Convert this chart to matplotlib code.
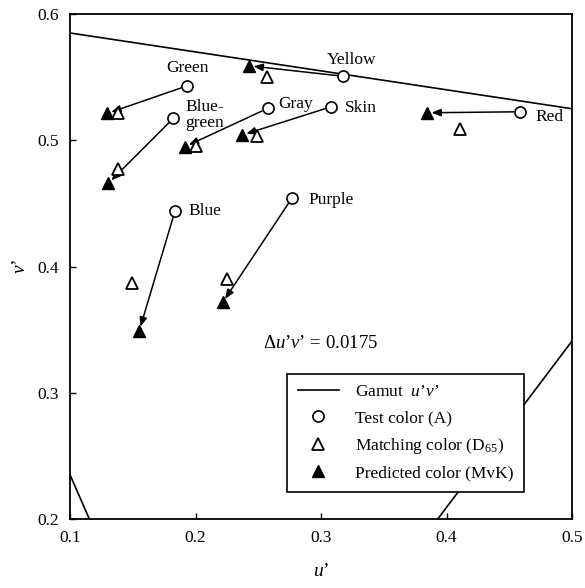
import matplotlib
matplotlib.use("Agg")
import matplotlib.pyplot as plt
from matplotlib.lines import Line2D

plt.rcParams['font.family'] = ['Liberation Serif', 'DejaVu Serif']
plt.rcParams['mathtext.fontset'] = 'custom'
plt.rcParams['mathtext.rm'] = 'Liberation Serif'
plt.rcParams['mathtext.it'] = 'Liberation Serif:italic'
plt.rcParams['mathtext.bf'] = 'Liberation Serif:bold'

names = ["Green", "Blue-green", "Gray", "Skin", "Yellow", "Red", "Blue", "Purple"]
test_u = [0.1935, 0.1823, 0.2575, 0.3082, 0.3178, 0.4586, 0.1837, 0.2767]
test_v = [0.5432, 0.5174, 0.5253, 0.5266, 0.5507, 0.5226, 0.4442, 0.4540]
match_u = [0.1380, 0.1385, 0.2004, 0.2488, 0.2567, 0.4108, 0.1492, 0.2253]
match_v = [0.5213, 0.4770, 0.4957, 0.5034, 0.5503, 0.5087, 0.3872, 0.3899]
pred_u = [0.1297, 0.1305, 0.1916, 0.2373, 0.2429, 0.3847, 0.1552, 0.2217]
pred_v = [0.5213, 0.4659, 0.4949, 0.5042, 0.5590, 0.5218, 0.3492, 0.3716]

label_text = ["Green", "Blue-\ngreen", "Gray", "Skin", "Yellow", "Red", "Blue", "Purple"]
label_u = [0.194, 0.1916, 0.2657, 0.3191, 0.324, 0.4705, 0.194, 0.2896]
label_v = [0.557, 0.520, 0.5287, 0.5258, 0.5636, 0.5187, 0.444, 0.4527]
label_ha = ["center", "left", "left", "left", "center", "left", "left", "left"]

gamut_top_u = [0.1, 0.5]
gamut_top_v = [0.585, 0.525]
gamut_left_u = [0.1, 0.1154]
gamut_left_v = [0.235, 0.2]
gamut_right_u = [0.393, 0.5]
gamut_right_v = [0.2, 0.341]

xticks = [0.1, 0.2, 0.3, 0.4, 0.5]
yticks = [0.2, 0.3, 0.4, 0.5, 0.6]

fig = plt.figure(figsize=(5.85, 5.88), dpi=100)
ax = fig.add_axes([0.1197, 0.1173, 0.8581, 0.8588])

lw = 1.2
ax.plot(gamut_top_u, gamut_top_v, color='black', lw=lw)
ax.plot(gamut_left_u, gamut_left_v, color='black', lw=lw)
ax.plot(gamut_right_u, gamut_right_v, color='black', lw=lw)

for i in range(len(names)):
    ax.annotate("", xy=(pred_u[i], pred_v[i]), xytext=(test_u[i], test_v[i]),
                arrowprops=dict(arrowstyle='-|>,head_length=0.55,head_width=0.22',
                                color='black', lw=1.1, shrinkA=4.5, shrinkB=3))

ax.plot(match_u, match_v, linestyle='none', marker='^', markersize=8,
        markerfacecolor='white', markeredgecolor='black', markeredgewidth=1.3, zorder=3)
ax.plot(pred_u, pred_v, linestyle='none', marker='^', markersize=8,
        markerfacecolor='black', markeredgecolor='black', zorder=4)
ax.plot(test_u, test_v, linestyle='none', marker='o', markersize=8,
        markerfacecolor='white', markeredgecolor='black', markeredgewidth=1.2, zorder=5)

for t, u, v, ha in zip(label_text, label_u, label_v, label_ha):
    ax.text(u, v, t, ha=ha, va='center', fontsize=12.5, linespacing=1.0)

ax.text(0.254, 0.339, "$\\Delta u\u2019v\u2019$ = 0.0175", ha='left', va='center',
        fontsize=13.5)

ax.set_xlim(0.1, 0.5)
ax.set_ylim(0.2, 0.6)
ax.set_xticks(xticks)
ax.set_yticks(yticks)
ax.set_xticklabels([f"{t:.1f}" for t in xticks])
ax.set_yticklabels([f"{t:.1f}" for t in yticks])
ax.tick_params(direction='in', length=4, width=1, labelsize=12.5, pad=8)
for s in ax.spines.values():
    s.set_linewidth(1.3)

ax.set_xlabel("$u\u2019$", fontsize=14, labelpad=12)
ax.set_ylabel("$v\u2019$", fontsize=14, labelpad=6)

handles = [
    Line2D([], [], color='black', lw=lw),
    Line2D([], [], linestyle='none', marker='o', markersize=8, markerfacecolor='white',
           markeredgecolor='black', markeredgewidth=1.2),
    Line2D([], [], linestyle='none', marker='^', markersize=8, markerfacecolor='white',
           markeredgecolor='black', markeredgewidth=1.3),
    Line2D([], [], linestyle='none', marker='^', markersize=8, markerfacecolor='black',
           markeredgecolor='black'),
]
labels = ["Gamut  $u\u2019v\u2019$", "Test color (A)", r"Matching color (D$_{65}$)",
          "Predicted color (MvK)"]
leg = ax.legend(handles, labels, loc='lower right', bbox_to_anchor=(0.904, 0.054),
                fontsize=12.5, frameon=True, fancybox=False, edgecolor='black',
                framealpha=1, handlelength=2.4, borderpad=0.6, labelspacing=0.55,
                handletextpad=0.9, borderaxespad=0)
leg.get_frame().set_linewidth(1.2)

fig.savefig("out.png", dpi=100)
